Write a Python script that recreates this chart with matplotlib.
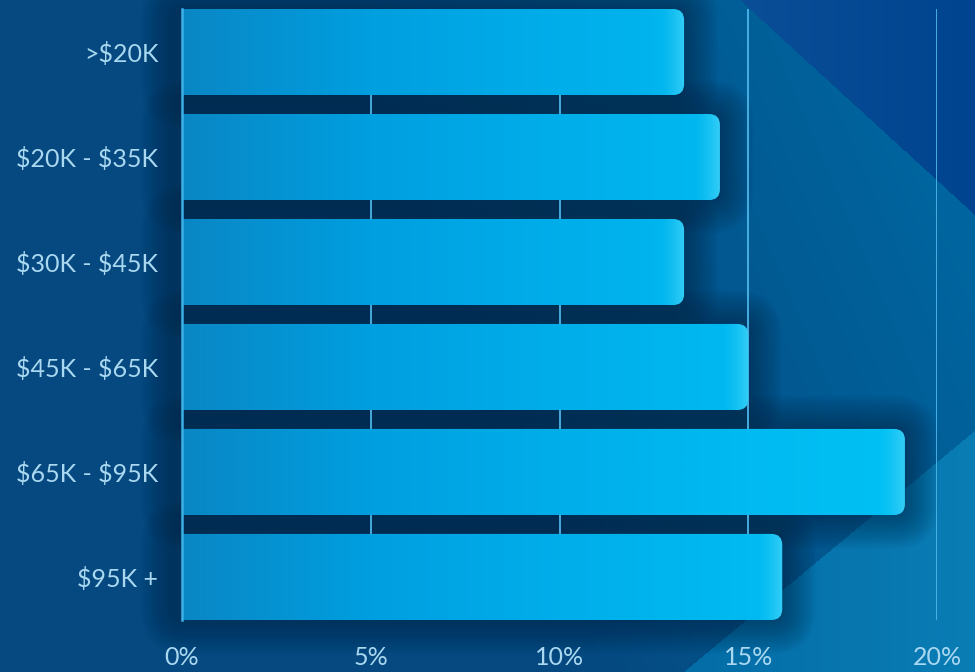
import numpy as np
import matplotlib
matplotlib.use("Agg")
import matplotlib.pyplot as plt
from matplotlib.patches import FancyBboxPatch
from matplotlib.colors import LinearSegmentedColormap, to_rgb

# data
categories = [">$20K", "$20K - $35K", "$30K - $45K", "$45K - $65K", "$65K - $95K", "$95K +"]
shares = [13.3, 14.25, 13.3, 15.0, 19.15, 15.9]
x_ticks = [0, 5, 10, 15, 20]
x_tick_labels = ["0%", "5%", "10%", "15%", "20%"]

W, H = 975, 672
LABEL_COLOR = "#a9d8f0"
GRID_COLOR = "#4cb5e8"

plt.rcParams['font.family'] = ['Lato', 'DejaVu Sans']
plt.rcParams['text.parse_math'] = False

fig = plt.figure(figsize=(W / 100, H / 100), dpi=100)


def lerp(c1, c2, t):
    c1 = np.array(to_rgb(c1))
    c2 = np.array(to_rgb(c2))
    t = np.clip(t, 0, 1)[..., None]
    return c1 * (1 - t) + c2 * t


# background: dark blue with diagonal lighter panels
yy, xx = np.mgrid[0:H, 0:W].astype(float)
s = (xx - 300) / 600 - yy / 1400
bg = lerp("#054980", "#0067a1", s)
upper = yy < (xx - 740) * 215 / 235
bg[upper] = lerp("#0a4e98", "#00448f", (xx[upper] - 740) / 235)
lower = yy > H - (xx - 683) * 242 / 292
bg[lower] = lerp("#046ca6", "#0a7db5", (xx[lower] - 683) / 292)

bg_ax = fig.add_axes([0, 0, 1, 1], zorder=-10)
bg_ax.imshow(bg, aspect="auto", interpolation="bilinear")
bg_ax.axis("off")

# main axes
left, right, top, bottom = 182, 937, 9, 620
ax = fig.add_axes([left / W, (H - bottom) / H, (right - left) / W, (bottom - top) / H])
ax.patch.set_alpha(0)

bar_h = 0.82
n = len(categories)
ax.set_xlim(0, 20)
ax.set_ylim(n - 1 + bar_h / 2, -bar_h / 2)

px_x = (right - left) / 20.0
px_y = (bottom - top) / (n - 1 + bar_h)
aspect = px_x / px_y

bar_cmap = LinearSegmentedColormap.from_list(
    "bars", ["#0a87c5", "#009fe0", "#00aeea", "#00baf1", "#00c2f4"])
tip_color = np.array(to_rgb("#33cdf7"))
radius = 11 / px_x

for i, v in enumerate(shares):
    # soft shadow
    for k in range(14):
        pad = (k + 1) * 2.4 / px_x
        sh = FancyBboxPatch((-0.2, i - bar_h / 2), v + 0.2, bar_h,
                            boxstyle=f"round,pad={pad},rounding_size={radius + pad}",
                            mutation_aspect=aspect, fc="#00223f", ec="none",
                            alpha=0.042, zorder=0.5, clip_on=False)
        ax.add_patch(sh)

    patch = FancyBboxPatch((-0.5, i - bar_h / 2), v + 0.5, bar_h,
                           boxstyle=f"round,pad=0,rounding_size={radius}",
                           mutation_aspect=aspect, fc="none", ec="none", zorder=3)
    ax.add_patch(patch)

    xs = np.linspace(0, v, 400)
    cols = bar_cmap(xs / 20.0)[:, :3]
    tip_w = 26 / px_x
    t = np.clip((xs - (v - tip_w)) / tip_w, 0, 1) ** 1.5
    cols = cols * (1 - t[:, None]) + tip_color * t[:, None]
    img = ax.imshow(cols[None, :, :], extent=[0, v, i + bar_h / 2, i - bar_h / 2],
                    aspect="auto", zorder=3, interpolation="bilinear")
    img.set_clip_path(patch)

ax.set_xlim(0, 20)
ax.set_ylim(n - 1 + bar_h / 2, -bar_h / 2)

for x in x_ticks[1:]:
    ax.axvline(x, color=GRID_COLOR, lw=1.3, zorder=1)

for sp in ["top", "right", "bottom"]:
    ax.spines[sp].set_visible(False)
ax.spines["left"].set_color("#3db0e6")
ax.spines["left"].set_linewidth(1.8)
ax.spines["left"].set_zorder(5)

ax.set_yticks(range(n))
ax.set_yticklabels(categories)
ax.set_xticks(x_ticks)
ax.set_xticklabels(x_tick_labels)
ax.tick_params(axis="both", length=0, colors=LABEL_COLOR, labelsize=18)
ax.tick_params(axis="y", pad=17)
ax.tick_params(axis="x", pad=19)

fig.savefig("out.png", dpi=100)
